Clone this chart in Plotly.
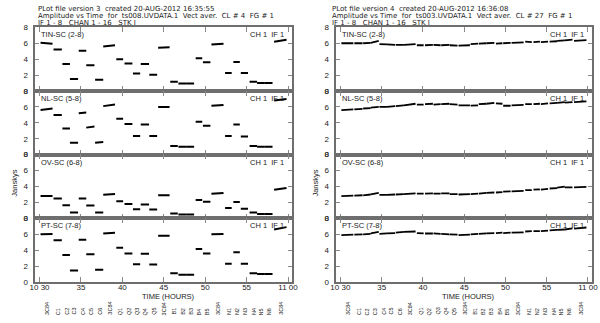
import plotly.graph_objects as go

# scan start / end times (minutes after 10:00)
scan_t0 = [30.12, 31.69, 32.76, 33.67, 34.73, 35.64, 36.71, 37.69, 39.27, 40.26, 41.28, 42.22, 43.25,
           44.32, 45.78, 46.77, 47.70, 48.85, 49.73, 50.75, 52.40, 53.40, 54.30, 55.36, 56.27, 57.20, 58.32]
scan_t1 = [31.57, 32.69, 33.67, 34.65, 35.64, 36.63, 37.69, 39.11, 40.09, 41.21, 42.15, 43.22, 44.20,
           45.70, 46.69, 47.70, 48.66, 49.64, 50.63, 52.21, 53.20, 54.18, 55.17, 56.27, 57.20, 58.13, 59.82]
scan_src = ["3C84", "C1", "C2", "C3", "C4", "C5", "C6", "3C84", "Q1", "Q2", "Q3", "Q4", "Q5",
            "3C84", "B1", "B2", "B3", "B4", "B5", "3C84", "N1", "N2", "N3", "N4", "N5", "N6", "3C84"]

baselines = ["TIN-SC (2-8)", "NL-SC (5-8)", "OV-SC (6-8)", "PT-SC (7-8)"]

# left plot (ts008, CL 4): amplitude at scan start / end
tin_l0 = [6.05, 5.2, 3.4, 1.5, 5.05, 3.25, 1.4, 5.6, 4.0, 3.45, 2.2, 3.4, 2.05, 5.45, 1.15, 0.95, 0.95, 4.1, 3.6, 5.85, 2.25, 3.65, 2.25, 1.15, 1.0, 1.0, 6.2]
tin_l1 = [5.95, 5.2, 3.4, 1.5, 5.05, 3.25, 1.4, 5.75, 4.0, 3.45, 2.2, 3.4, 2.05, 5.5, 1.15, 0.95, 0.95, 4.1, 3.6, 5.95, 2.25, 3.65, 2.25, 1.15, 1.0, 1.0, 6.45]
nl_l0 = [5.6, 5.0, 3.3, 1.5, 5.2, 3.4, 1.5, 6.1, 4.5, 3.85, 2.35, 3.8, 2.35, 6.0, 1.1, 1.0, 1.0, 4.15, 3.65, 6.15, 2.35, 3.8, 2.3, 1.1, 1.0, 1.0, 6.8]
nl_l1 = [5.8, 5.0, 3.3, 1.5, 5.3, 3.55, 1.6, 6.3, 4.5, 3.85, 2.35, 3.8, 2.35, 6.0, 1.1, 1.0, 1.0, 4.15, 3.65, 6.25, 2.35, 3.8, 2.3, 1.1, 1.0, 1.0, 7.0]
ov_l0 = [2.8, 2.5, 1.65, 0.75, 2.5, 1.6, 0.75, 2.95, 2.15, 1.8, 1.15, 1.75, 1.1, 2.9, 0.6, 0.5, 0.5, 2.3, 2.1, 3.1, 1.3, 2.05, 1.2, 0.75, 0.55, 0.55, 3.6]
ov_l1 = [2.8, 2.5, 1.65, 0.75, 2.5, 1.6, 0.75, 3.05, 2.15, 1.8, 1.15, 1.75, 1.1, 2.9, 0.6, 0.5, 0.5, 2.3, 2.1, 3.2, 1.3, 2.05, 1.2, 0.75, 0.55, 0.55, 3.8]
pt_l0 = [6.0, 5.25, 3.4, 1.45, 5.3, 3.5, 1.55, 6.1, 4.3, 3.6, 2.25, 3.55, 2.2, 5.8, 1.1, 0.9, 0.9, 4.15, 3.6, 6.0, 2.3, 3.75, 2.3, 1.1, 1.0, 1.0, 6.6]
pt_l1 = [6.05, 5.25, 3.4, 1.45, 5.3, 3.5, 1.55, 6.2, 4.3, 3.6, 2.25, 3.55, 2.2, 5.8, 1.1, 0.9, 0.9, 4.15, 3.6, 6.05, 2.3, 3.75, 2.3, 1.1, 1.0, 1.0, 6.9]

# right plot (ts003, CL 27)
tin_r0 = [6.0, 6.0, 6.0, 6.05, 5.9, 5.85, 5.8, 5.8, 5.75, 5.75, 5.8, 5.75, 5.75, 5.7, 5.9, 5.95, 6.0, 5.95, 6.0, 6.05, 6.2, 6.15, 6.15, 6.2, 6.3, 6.35, 6.3]
tin_r1 = [6.0, 6.0, 6.05, 6.3, 5.85, 5.8, 5.8, 5.9, 5.75, 5.8, 5.75, 5.8, 5.7, 5.75, 5.95, 6.0, 6.05, 6.0, 6.05, 6.1, 6.15, 6.2, 6.2, 6.25, 6.35, 6.45, 6.4]
nl_r0 = [5.6, 5.7, 5.8, 5.9, 6.0, 6.0, 6.1, 6.2, 6.3, 6.35, 6.3, 6.35, 6.35, 6.2, 6.15, 6.35, 6.4, 6.45, 6.15, 6.2, 6.35, 6.35, 6.35, 6.45, 6.5, 6.55, 6.6]
nl_r1 = [5.7, 5.75, 5.85, 6.0, 6.0, 6.1, 6.2, 6.4, 6.3, 6.4, 6.35, 6.4, 6.3, 6.2, 6.2, 6.4, 6.5, 6.4, 6.15, 6.25, 6.35, 6.4, 6.45, 6.5, 6.6, 6.6, 6.7]
ov_r0 = [2.8, 2.85, 2.9, 3.0, 2.95, 2.95, 3.0, 3.05, 3.1, 3.1, 3.1, 3.15, 3.05, 3.0, 3.05, 3.1, 3.2, 3.25, 3.35, 3.4, 3.55, 3.6, 3.6, 3.75, 3.85, 3.9, 3.9]
ov_r1 = [2.85, 2.9, 3.0, 3.2, 2.95, 3.0, 3.05, 3.15, 3.1, 3.15, 3.1, 3.15, 3.05, 3.05, 3.1, 3.2, 3.25, 3.3, 3.4, 3.45, 3.55, 3.65, 3.7, 3.8, 4.0, 3.9, 3.95]
pt_r0 = [5.9, 5.95, 6.0, 6.1, 6.05, 6.1, 6.2, 6.3, 6.15, 6.1, 6.1, 6.05, 6.0, 5.9, 6.0, 6.05, 6.1, 6.15, 6.15, 6.2, 6.35, 6.4, 6.4, 6.5, 6.55, 6.6, 6.7]
pt_r1 = [5.95, 6.0, 6.05, 6.3, 6.1, 6.15, 6.3, 6.35, 6.1, 6.1, 6.05, 6.0, 5.95, 5.95, 6.05, 6.1, 6.15, 6.2, 6.2, 6.25, 6.4, 6.4, 6.45, 6.55, 6.6, 6.75, 6.85]

left_amps = [(tin_l0, tin_l1), (nl_l0, nl_l1), (ov_l0, ov_l1), (pt_l0, pt_l1)]
right_amps = [(tin_r0, tin_r1), (nl_r0, nl_r1), (ov_r0, ov_r1), (pt_r0, pt_r1)]

titles = [
    ["PLot file version 3  created 20-AUG-2012 16:35:55",
     "Amplitude vs Time  for  ts008.UVDATA.1  Vect aver.  CL # 4  FG # 1",
     "IF 1 - 8   CHAN 1 - 16   STK I"],
    ["PLot file version 4  created 20-AUG-2012 16:36:08",
     "Amplitude vs Time  for  ts003.UVDATA.1  Vect aver.  CL # 27  FG # 1",
     "IF 1 - 8   CHAN 1 - 16   STK I"],
]

W, H = 600, 323
FONT = "Liberation Sans, Arial, sans-serif"
TFONT = "DejaVu Sans, sans-serif"
panel_x = [(30, 292), (337, 598)]
row_top, row_h = 24, 65.5
xrange_ = [29.5, 60.5]
xticks = [30, 35, 40, 45, 50, 55, 60]
xticktext = ["10 30", "35", "40", "45", "50", "55", "11 00"]


def keep_spaces(s):
    return s.replace("  ", "\u00a0\u00a0")


fig = go.Figure()
layout = dict(
    width=W, height=H, margin=dict(l=0, r=0, t=0, b=0),
    paper_bgcolor="white", plot_bgcolor="white", showlegend=False,
    font=dict(family=FONT, color="#222", size=8),
)
annotations = []

for p, amps in enumerate([left_amps, right_amps]):
    x0, x1 = panel_x[p]
    for r in range(4):
        n = p * 4 + r + 1
        sfx = "" if n == 1 else str(n)
        y_top = row_top + r * row_h
        y_bot = y_top + row_h
        a0, a1 = amps[r]
        xs, ys = [], []
        for i in range(len(scan_t0)):
            xs += [scan_t0[i], scan_t1[i], None]
            ys += [a0[i], a1[i], None]
        fig.add_trace(go.Scatter(
            x=xs, y=ys, mode="lines", xaxis="x" + sfx, yaxis="y" + sfx,
            line=dict(color="black", width=2.0 if p == 0 else 1.8), hoverinfo="skip",
        ))
        layout["xaxis" + sfx] = dict(
            domain=[x0 / W, x1 / W], anchor="y" + sfx, range=xrange_,
            tickvals=xticks, ticktext=xticktext, showticklabels=(r == 3),
            ticks="inside", ticklen=5, tickcolor="#8a8a8a", mirror="ticks",
            showline=True, linecolor="#6e6e6e", linewidth=1.5,
            showgrid=False, zeroline=False, tickfont=dict(size=8),
            ticklabelstandoff=-3,
        )
        layout["yaxis" + sfx] = dict(
            domain=[1 - y_bot / H, 1 - y_top / H], anchor="x" + sfx, range=[0, 8],
            tickvals=[0, 2, 4, 6, 8], ticks="inside", ticklen=4, tickcolor="#8a8a8a",
            mirror="ticks", showline=True, linecolor="#6e6e6e", linewidth=1.5,
            showgrid=False, zeroline=False, tickfont=dict(size=8),
            ticklabelstandoff=4,
        )
        annotations.append(dict(
            text=baselines[r], x=(x0 + 4) / W, y=1 - (y_top + 1) / H, xref="paper", yref="paper",
            xanchor="left", yanchor="top", showarrow=False, font=dict(size=7.5),
        ))
        annotations.append(dict(
            text="CH 1\u00a0 IF 1", x=(x1 - 6) / W, y=1 - (y_top + 1) / H, xref="paper", yref="paper",
            xanchor="right", yanchor="top", showarrow=False, font=dict(size=7.5),
        ))
    # title lines
    for k, line in enumerate(titles[p]):
        annotations.append(dict(
            text=keep_spaces(line), x=(x0 + 1 if p == 0 else x0 - 6) / W, y=1 - (5 + k * 7.2) / H,
            xref="paper", yref="paper", xanchor="left", yanchor="middle",
            showarrow=False, font=dict(size=7, family=TFONT),
        ))
    # axis titles
    annotations.append(dict(
        text="TIME (HOURS)", x=(x0 + x1) / 2 / W + 0.008, y=1 - 301 / H, xref="paper", yref="paper",
        xanchor="center", yanchor="middle", showarrow=False, font=dict(size=7.5),
    ))
    annotations.append(dict(
        text="Janskys", x=(x0 - 21) / W, y=1 - 184 / H, xref="paper", yref="paper",
        xanchor="center", yanchor="middle", textangle=-90, showarrow=False, font=dict(size=7.5),
    ))
    # source labels under the time axis
    xa = "x" + str(p * 4 + 4)
    for i, src in enumerate(scan_src):
        annotations.append(dict(
            text=src, x=(scan_t0[i] + scan_t1[i]) / 2, y=1 - 322 / H, xref=xa, yref="paper",
            xanchor="center", yanchor="bottom", textangle=-90, showarrow=False,
            font=dict(size=5.5),
        ))

layout["annotations"] = annotations
fig.update_layout(**layout)
fig.write_html("out.html", config={"displayModeBar": False},
               post_script="document.body.style.margin='0';")
